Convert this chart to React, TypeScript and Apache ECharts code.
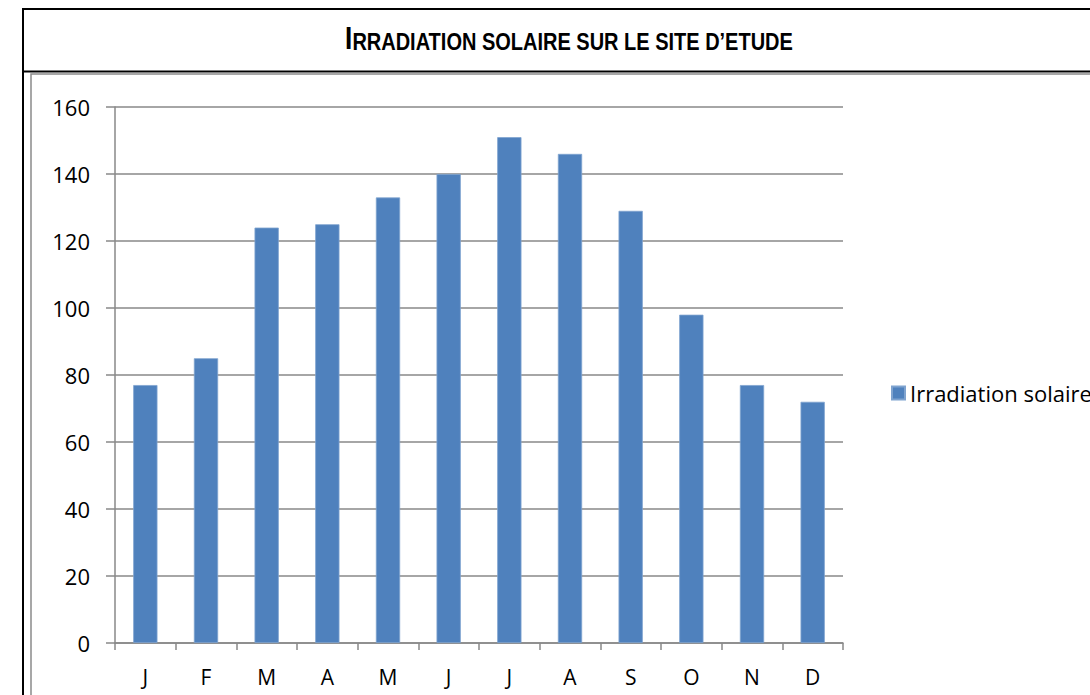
import React, { useEffect, useRef } from "react";
import * as echarts from "echarts";

const months = ["J", "F", "M", "A", "M", "J", "J", "A", "S", "O", "N", "D"];
const irradiation = [77, 85, 124, 125, 133, 140, 151, 146, 129, 98, 77, 72];
const seriesName = "Irradiation solaire";
const yTicks = { min: 0, max: 160, interval: 20 };

export default function App() {
  const ref = useRef<HTMLDivElement>(null);
  useEffect(() => {
    if (!ref.current) return;
    const chart = echarts.init(ref.current, null, { renderer: "svg" });
    const font = "'Open Sans', 'Noto Sans', sans-serif";
    const titleFont = "'Liberation Sans Narrow', 'Liberation Sans', sans-serif";
    chart.setOption({
      animation: false,
      backgroundColor: "#ffffff",
      grid: { left: 115, right: 247, top: 107, bottom: 52, containLabel: false },
      legend: {
        left: 886,
        top: 377,
        itemWidth: 13,
        itemHeight: 13,
        itemGap: 8,
        icon: "rect",
        textStyle: { fontFamily: font, fontSize: 22, color: "#000" },
        data: [seriesName],
      },
      xAxis: {
        type: "category",
        data: months,
        axisLine: { lineStyle: { color: "#888", width: 1.5 } },
        axisTick: { show: true, length: 7, lineStyle: { color: "#888", width: 1.5 } },
        axisLabel: { fontFamily: font, fontSize: 21, color: "#000", margin: 23 },
      },
      yAxis: {
        type: "value",
        min: yTicks.min,
        max: yTicks.max,
        interval: yTicks.interval,
        axisLine: { show: true, lineStyle: { color: "#888", width: 1.5 } },
        axisTick: { show: true, length: 9, lineStyle: { color: "#888", width: 1.5 } },
        axisLabel: { fontFamily: font, fontSize: 22, color: "#000", margin: 25 },
        splitLine: { lineStyle: { color: "#888", width: 1.5 } },
      },
      series: [
        {
          name: seriesName,
          type: "bar",
          data: irradiation,
          barWidth: "40%",
          itemStyle: { color: "#4F81BD", borderColor: "#7fa3cf", borderWidth: 0.8 },
        },
      ],
      graphic: [
        { type: "rect", shape: { x: 31, y: 74, width: 1100, height: 700 }, style: { fill: "none", stroke: "#8a8a8a", lineWidth: 1.5 }, silent: true },
        { type: "line", shape: { x1: 22, y1: 9, x2: 1090, y2: 9 }, style: { stroke: "#000", lineWidth: 2 } },
        { type: "line", shape: { x1: 23, y1: 8, x2: 23, y2: 695 }, style: { stroke: "#000", lineWidth: 2 } },
        { type: "line", shape: { x1: 22, y1: 71.5, x2: 1090, y2: 71.5 }, style: { stroke: "#000", lineWidth: 2 } },
        {
          type: "text",
          x: 569,
          y: 38,
          scaleX: 1,
          scaleY: 1.19,
          style: {
            text: "{b|I}{s|RRADIATION SOLAIRE SUR LE SITE D\u2019ETUDE}",
            align: "center",
            verticalAlign: "middle",
            rich: {
              b: { fontFamily: titleFont, fontSize: 26, fontWeight: "bold", fill: "#000", verticalAlign: "bottom" },
              s: { fontFamily: titleFont, fontSize: 20, fontWeight: "bold", fill: "#000", verticalAlign: "bottom" },
            },
          },
        },
      ],
    });
    return () => chart.dispose();
  }, []);
  return (
    <div
      ref={ref}
      style={{ position: "absolute", left: 0, top: 0, width: 1090, height: 695 }}
    />
  );
}
